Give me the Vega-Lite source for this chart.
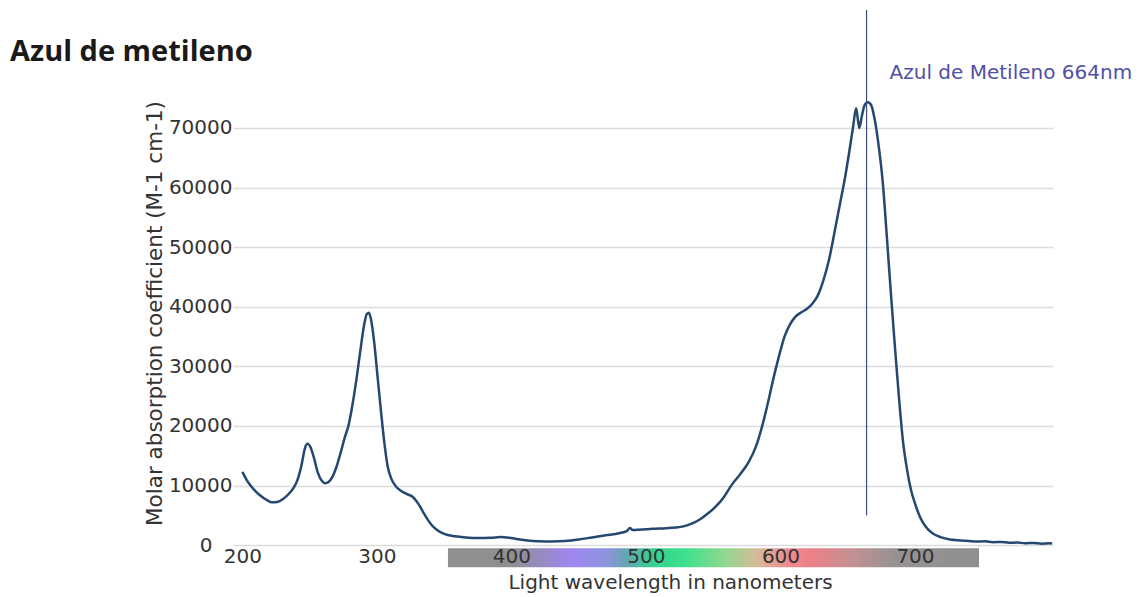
{
  "$schema": "https://vega.github.io/schema/vega-lite/v6.json",
  "width": 820,
  "height": 559,
  "autosize": {"type": "none"},
  "padding": {"left": 233, "top": 10, "right": 88, "bottom": 28},
  "background": "white",
  "title": {"text": "Azul de metileno", "anchor": "start", "frame": "group", "dx": -223, "dy": 58, "font": "Open Sans", "fontSize": 29, "fontWeight": "bold", "color": "#1a1a1a", "offset": 0},
  "config": {"view": {"stroke": null}, "font": "DejaVu Sans"},
  "datasets": {
    "spectrum": [
      {"nm": 200, "v": 12300}, {"nm": 203, "v": 11000}, {"nm": 206, "v": 10000}, {"nm": 210, "v": 9000},
      {"nm": 214, "v": 8200}, {"nm": 218, "v": 7600}, {"nm": 222, "v": 7200}, {"nm": 226, "v": 7250},
      {"nm": 230, "v": 7700}, {"nm": 234, "v": 8500}, {"nm": 238, "v": 9600}, {"nm": 241, "v": 11000},
      {"nm": 244, "v": 13500}, {"nm": 246.5, "v": 16300}, {"nm": 248.5, "v": 17000}, {"nm": 250.5, "v": 16500},
      {"nm": 253, "v": 14800}, {"nm": 256, "v": 12200}, {"nm": 259, "v": 10800}, {"nm": 261.5, "v": 10400},
      {"nm": 264, "v": 10600}, {"nm": 267, "v": 11500}, {"nm": 270, "v": 13200}, {"nm": 273, "v": 15500},
      {"nm": 276, "v": 18000}, {"nm": 279, "v": 20200}, {"nm": 282, "v": 23800}, {"nm": 285, "v": 28200},
      {"nm": 288, "v": 33200}, {"nm": 290.5, "v": 37000}, {"nm": 292.5, "v": 38800}, {"nm": 294, "v": 39000},
      {"nm": 295.5, "v": 38000}, {"nm": 298, "v": 34000}, {"nm": 300.5, "v": 28200}, {"nm": 303, "v": 22500},
      {"nm": 305.5, "v": 17200}, {"nm": 308, "v": 13200}, {"nm": 311, "v": 11000}, {"nm": 314, "v": 9900},
      {"nm": 318, "v": 9100}, {"nm": 322, "v": 8600}, {"nm": 326, "v": 8200}, {"nm": 329, "v": 7500},
      {"nm": 332, "v": 6500}, {"nm": 335, "v": 5300}, {"nm": 338, "v": 4200}, {"nm": 341, "v": 3300},
      {"nm": 345, "v": 2500}, {"nm": 350, "v": 1900}, {"nm": 358, "v": 1500}, {"nm": 366, "v": 1300},
      {"nm": 375, "v": 1200}, {"nm": 385, "v": 1250}, {"nm": 392, "v": 1350}, {"nm": 398, "v": 1250},
      {"nm": 405, "v": 1000}, {"nm": 412, "v": 800}, {"nm": 420, "v": 670}, {"nm": 430, "v": 620},
      {"nm": 440, "v": 700}, {"nm": 450, "v": 950}, {"nm": 460, "v": 1300}, {"nm": 470, "v": 1650},
      {"nm": 480, "v": 2000}, {"nm": 486, "v": 2400}, {"nm": 488, "v": 2900}, {"nm": 490, "v": 2550},
      {"nm": 495, "v": 2600}, {"nm": 505, "v": 2750}, {"nm": 515, "v": 2850}, {"nm": 522, "v": 2950},
      {"nm": 528, "v": 3150}, {"nm": 534, "v": 3600}, {"nm": 540, "v": 4300}, {"nm": 546, "v": 5300},
      {"nm": 552, "v": 6500}, {"nm": 558, "v": 8100}, {"nm": 564, "v": 10200}, {"nm": 570, "v": 11900},
      {"nm": 576, "v": 13800}, {"nm": 582, "v": 16700}, {"nm": 587, "v": 20500}, {"nm": 591, "v": 24200},
      {"nm": 595, "v": 28200}, {"nm": 599, "v": 31800}, {"nm": 603, "v": 35000}, {"nm": 607, "v": 37000},
      {"nm": 611, "v": 38300}, {"nm": 615, "v": 39000}, {"nm": 620, "v": 39700}, {"nm": 624, "v": 40600},
      {"nm": 628, "v": 42000}, {"nm": 632, "v": 44500}, {"nm": 636, "v": 47800}, {"nm": 640, "v": 52300},
      {"nm": 644, "v": 57000}, {"nm": 648, "v": 61700}, {"nm": 651, "v": 65800}, {"nm": 654, "v": 70200},
      {"nm": 656.2, "v": 73300}, {"nm": 657.5, "v": 71500}, {"nm": 658.6, "v": 70000}, {"nm": 660.5, "v": 72000},
      {"nm": 662.5, "v": 73800}, {"nm": 665, "v": 74300}, {"nm": 667.5, "v": 73800}, {"nm": 670, "v": 71500},
      {"nm": 673, "v": 67000}, {"nm": 676, "v": 61000}, {"nm": 679, "v": 52000}, {"nm": 682, "v": 42500},
      {"nm": 685, "v": 33500}, {"nm": 688, "v": 25000}, {"nm": 691, "v": 17600}, {"nm": 694, "v": 12800},
      {"nm": 697, "v": 9300}, {"nm": 700, "v": 7000}, {"nm": 704, "v": 4600}, {"nm": 708, "v": 3100},
      {"nm": 713, "v": 2000}, {"nm": 719, "v": 1350}, {"nm": 726, "v": 950}, {"nm": 734, "v": 800},
      {"nm": 740, "v": 700}, {"nm": 746, "v": 600}, {"nm": 752, "v": 650}, {"nm": 758, "v": 500},
      {"nm": 764, "v": 550}, {"nm": 770, "v": 400}, {"nm": 776, "v": 450}, {"nm": 782, "v": 320},
      {"nm": 788, "v": 380}, {"nm": 794, "v": 250}, {"nm": 800, "v": 300}, {"nm": 802, "v": 260}
    ],
    "bar": [{"start": 352.8, "end": 747.6, "top": -500, "bottom": -3700}],
    "marker": [{"nm": 664, "y1": 5000, "y2": 89800, "ly": 79200, "label": "Azul de Metileno 664nm"}]
  },
  "layer": [
    {
      "data": {"name": "bar"},
      "mark": {"type": "rect", "color": {"gradient": "linear", "x1": 0, "y1": 0, "x2": 1, "y2": 0, "stops": [
        {"offset": 0, "color": "#8f8f8f"},
        {"offset": 0.12, "color": "#8f8f8f"},
        {"offset": 0.23, "color": "#9f86f0"},
        {"offset": 0.30, "color": "#8d95dc"},
        {"offset": 0.33, "color": "#6aa2b8"},
        {"offset": 0.39, "color": "#33d48e"},
        {"offset": 0.45, "color": "#3fe08e"},
        {"offset": 0.52, "color": "#90d890"},
        {"offset": 0.58, "color": "#d4bc98"},
        {"offset": 0.645, "color": "#f08890"},
        {"offset": 0.68, "color": "#ec8088"},
        {"offset": 0.76, "color": "#c49192"},
        {"offset": 0.84, "color": "#969292"},
        {"offset": 1, "color": "#8f8f8f"}
      ]}},
      "encoding": {
        "x": {"field": "start", "type": "quantitative", "title": "Light wavelength in nanometers", "scale": {"domain": [193, 802.6], "nice": false, "zero": false},
          "axis": {"values": [200, 300, 400, 500, 600, 700], "title": "Light wavelength in nanometers", "domain": false, "ticks": false, "tickSize": 0, "grid": false,
            "labelPadding": -13, "labelBaseline": "middle", "labelFontSize": 20, "labelColor": "#333333", "labelFlush": false, "labelOverlap": false,
            "titleFontSize": 20, "titleFontWeight": "normal", "titleColor": "#333333", "titleX": 437, "titleY": 13, "titleBaseline": "middle", "titleAlign": "center", "zindex": 1}},
        "x2": {"field": "end"},
        "y": {"field": "top", "type": "quantitative", "title": "Molar absorption coefficient (M-1 cm-1)", "scale": {"domain": [-4000, 89800], "nice": false, "zero": false},
          "axis": {"values": [0, 10000, 20000, 30000, 40000, 50000, 60000, 70000], "format": "d", "title": "Molar absorption coefficient (M-1 cm-1)", "grid": true, "gridColor": "#dcdcdc", "gridWidth": 1.5, "domain": false, "ticks": false,
            "labelPadding": {"condition": {"test": "datum.value === 0", "value": 21}, "value": 1}, "labelFontSize": 20, "labelColor": "#333333",
            "titleFontSize": 21.5, "titleFontWeight": "normal", "titleColor": "#333333", "titleX": -78, "titleY": 303, "titleAngle": -90, "titleBaseline": "middle", "titleAlign": "center", "zindex": 0}},
        "y2": {"field": "bottom"}
      }
    },
    {
      "data": {"name": "spectrum"},
      "mark": {"type": "line", "color": "#24486f", "strokeWidth": 2.5, "interpolate": "monotone"},
      "encoding": {
        "x": {"field": "nm", "type": "quantitative", "title": "Light wavelength in nanometers"},
        "y": {"field": "v", "type": "quantitative", "title": "Molar absorption coefficient (M-1 cm-1)"}
      }
    },
    {
      "data": {"name": "marker"},
      "mark": {"type": "rule", "color": "#3d4f82", "strokeWidth": 1.2},
      "encoding": {
        "x": {"field": "nm", "type": "quantitative", "title": "Light wavelength in nanometers"},
        "y": {"field": "y1", "type": "quantitative", "title": "Molar absorption coefficient (M-1 cm-1)"},
        "y2": {"field": "y2"}
      }
    },
    {
      "data": {"name": "marker"},
      "mark": {"type": "text", "align": "left", "baseline": "middle", "dx": 23, "fontSize": 20, "color": "#5050a8", "font": "DejaVu Sans"},
      "encoding": {
        "x": {"field": "nm", "type": "quantitative", "title": "Light wavelength in nanometers"},
        "y": {"field": "ly", "type": "quantitative", "title": "Molar absorption coefficient (M-1 cm-1)"},
        "text": {"field": "label"}
      }
    }
  ]
}
